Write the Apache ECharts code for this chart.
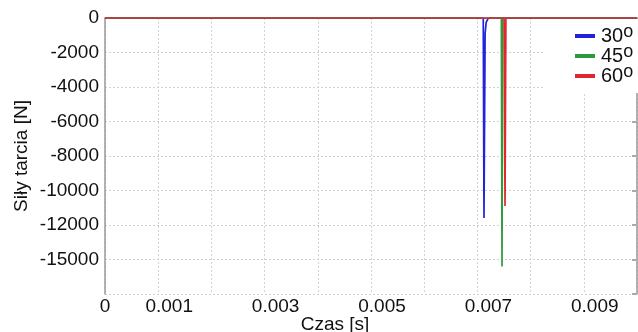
<!DOCTYPE html>
<html>
<head>
<meta charset="utf-8">
<script src="https://cdn.jsdelivr.net/npm/echarts@6/dist/echarts.min.js"></script>
<style>
  html, body { margin: 0; padding: 0; background: #fff; }
  #chart { width: 638px; height: 332px; }
</style>
</head>
<body>
<div id="chart"></div>
<script>
// Friction force traces for three inclination angles
const seriesNames = ['30', '45', '60'];
const seriesColors = ['#2222dc', '#2f9a3c', '#e0282c'];

const time30 = [0, 0.00711, 0.007124, 0.007145, 0.007165, 0.0072, 0.00725, 0.01];
const force30 = [0, 0, -11600, -900, -250, -30, 0, 0];

const time45 = [0, 0.00745, 0.007463, 0.007476, 0.01];
const force45 = [0, 0, -14400, 0, 0];

const time60 = [0, 0.007502, 0.007519, 0.007536, 0.01];
const force60 = [0, 0, -10900, 0, 0];

// Tick labels as printed along the axes
const xTickValues = [0, 0.001, 0.003, 0.005, 0.007, 0.009];
const xTickLabels = ['0', '0.001', '0.003', '0.005', '0.007', '0.009'];
const yTickLabels = ['0', '-2000', '-4000', '-6000', '-8000', '-10000', '-12000', '-15000'];

const pairs = (t, f) => t.map((v, i) => [v, f[i]]);
const traces = [pairs(time30, force30), pairs(time45, force45), pairs(time60, force60)];

const font = 'Liberation Sans, Arial, sans-serif';
const gridLine = { show: true, lineStyle: { color: '#d2d2d2', type: [2, 2], width: 1 } };

const chart = echarts.init(document.getElementById('chart'), null, { renderer: 'canvas' });
chart.setOption({
  animation: false,
  backgroundColor: '#fff',
  grid: { left: 105, right: 1, top: 18, bottom: 38, containLabel: false, outerBoundsMode: 'none' },
  xAxis: {
    type: 'value', min: 0, max: 0.01, interval: 0.001,
    name: 'Czas [s]', nameLocation: 'middle', nameGap: 21, nameMoveOverlap: false,
    nameTextStyle: { fontFamily: font, fontSize: 19, color: '#111', padding: [0, 72, 0, 0] },
    axisLine: { show: true, lineStyle: { color: '#999', width: 1.5 } },
    axisTick: { show: false },
    splitLine: gridLine,
    axisLabel: {
      fontFamily: font, fontSize: 19, color: '#111', margin: 3,
      rich: { r: { fontFamily: font, fontSize: 19, color: '#111', padding: [0, 0, 0, 22] } },
      formatter: v => {
        const k = xTickValues.findIndex(x => Math.abs(x - v) < 1e-7);
        if (k < 0) return '';
        return k === 0 ? xTickLabels[k] : '{r|' + xTickLabels[k] + '}';
      }
    }
  },
  yAxis: [{
    type: 'value', min: -16000, max: 0, interval: 2000,
    name: 'Siły tarcia [N]', nameLocation: 'middle', nameGap: 74, nameRotate: 90, nameMoveOverlap: false,
    nameTextStyle: { fontFamily: font, fontSize: 19, color: '#111' },
    axisLine: { show: true, lineStyle: { color: '#999', width: 1.5 } },
    axisTick: { show: false },
    splitLine: gridLine,
    axisLabel: {
      fontFamily: font, fontSize: 19, color: '#111', margin: 6,
      formatter: v => {
        const k = Math.round(-v / 2000);
        return k < yTickLabels.length ? yTickLabels[k] : '';
      }
    }
  }, {
    type: 'value', min: -16000, max: 0, interval: 2000, position: 'right',
    axisLine: { show: true, lineStyle: { color: '#999', width: 1.5 } },
    axisTick: { show: true, inside: true, length: 5, lineStyle: { color: '#aaa', width: 2 } },
    axisLabel: { show: false },
    splitLine: { show: false }
  }],
  legend: {
    orient: 'vertical', left: 543, top: 19,
    padding: [4, 10, 4, 32], itemGap: -6,
    backgroundColor: '#fff',
    itemWidth: 20, itemHeight: 4, icon: 'rect',
    data: seriesNames,
    formatter: n => '{n|' + n + '}{s|o}',
    textStyle: {
      fontFamily: font, fontSize: 20, color: '#111', padding: [0, 0, 0, 1],
      rich: {
        n: { fontFamily: font, fontSize: 20, color: '#111', lineHeight: 20 },
        s: { fontFamily: font, fontSize: 18, color: '#111', lineHeight: 12, padding: [0, 0, 8, 0] }
      }
    }
  },
  series: traces.map((d, i) => ({
    name: seriesNames[i], type: 'line', data: d,
    showSymbol: false, symbol: 'none',
    color: seriesColors[i],
    lineStyle: { width: 1.7, color: seriesColors[i] },
    z: 3 + i
  }))
});
</script>
</body>
</html>
